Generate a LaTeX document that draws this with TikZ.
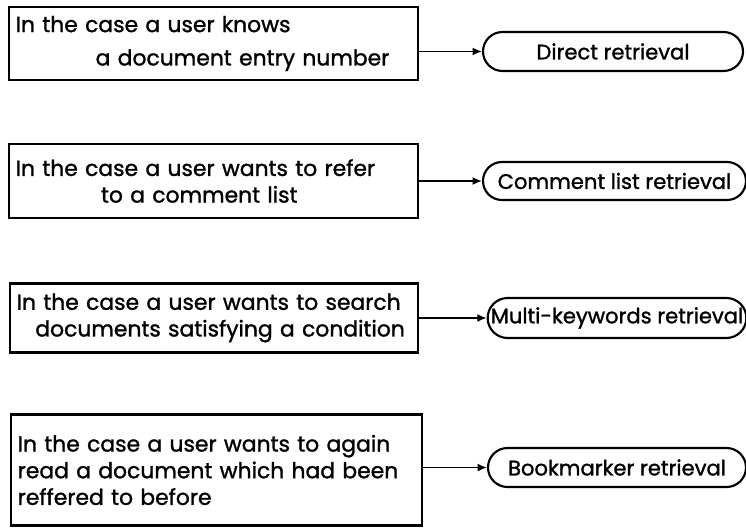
\documentclass[tikz,border=0pt]{standalone}
\usepackage{fontspec}
\setmainfont{Poppins}[FakeBold=1.3]
\usepackage{tikz}
\usetikzlibrary{arrows.meta}
\usetikzlibrary{shapes.misc}

\tikzset{
  casebox/.style={draw, line width=2pt, align=left, inner xsep=5pt, inner ysep=0pt, font=\fontsize{16.4}{20}\selectfont},
  retbox/.style={draw, rounded rectangle, line width=1.6pt, inner sep=0pt, font=\fontsize{15.8}{19}\selectfont},
  link/.style={line width=1.1pt, -{Latex[length=7pt,width=6pt]}}
}

\begin{document}
\begin{tikzpicture}[x=0.75pt, y=-0.75pt]
        \useasboundingbox (0,0) rectangle (746,528);
        % the four cases
        \node[casebox, text width=296.75pt, minimum height=54.75pt] (case1) at (213.5,43.5) {\mbox{In the case a user knows}\\[5pt]\mbox{\hspace*{60pt}a document entry number}};
        \node[casebox, text width=296.75pt, minimum height=55.5pt] (case2) at (213.5,181) {\mbox{In the case a user wants to refer}\\\mbox{\hspace*{64pt}to a comment list}};
        \node[casebox, text width=296pt, minimum height=51.75pt] (case3) at (214,318) {\mbox{In the case a user wants to search}\\\mbox{\hspace*{14pt}documents satisfying a condition}};
        \node[casebox, text width=298.25pt, minimum height=83.25pt] (case4) at (216.5,470) {\mbox{In the case a user wants to again}\\\mbox{read a document which had been}\\\mbox{reffered to before}};
        % the retrievals
        \node[retbox, minimum width=195pt, minimum height=29.25pt] (ret1) at (613,51.5) {Direct retrieval};
        \node[retbox, minimum width=197.25pt, minimum height=28.5pt] (ret2) at (614.5,181) {Comment list retrieval};
        \node[retbox, minimum width=193.5pt, minimum height=30pt] (ret3) at (617,318) {Multi-keywords retrieval};
        \node[retbox, minimum width=193.5pt, minimum height=29.25pt] (ret4) at (617,467.5) {Bookmarker retrieval};
        \foreach \i in {1,...,4} \draw[link] (case\i.east |- ret\i.west) -- (ret\i.west);
    \end{tikzpicture}
\end{document}
